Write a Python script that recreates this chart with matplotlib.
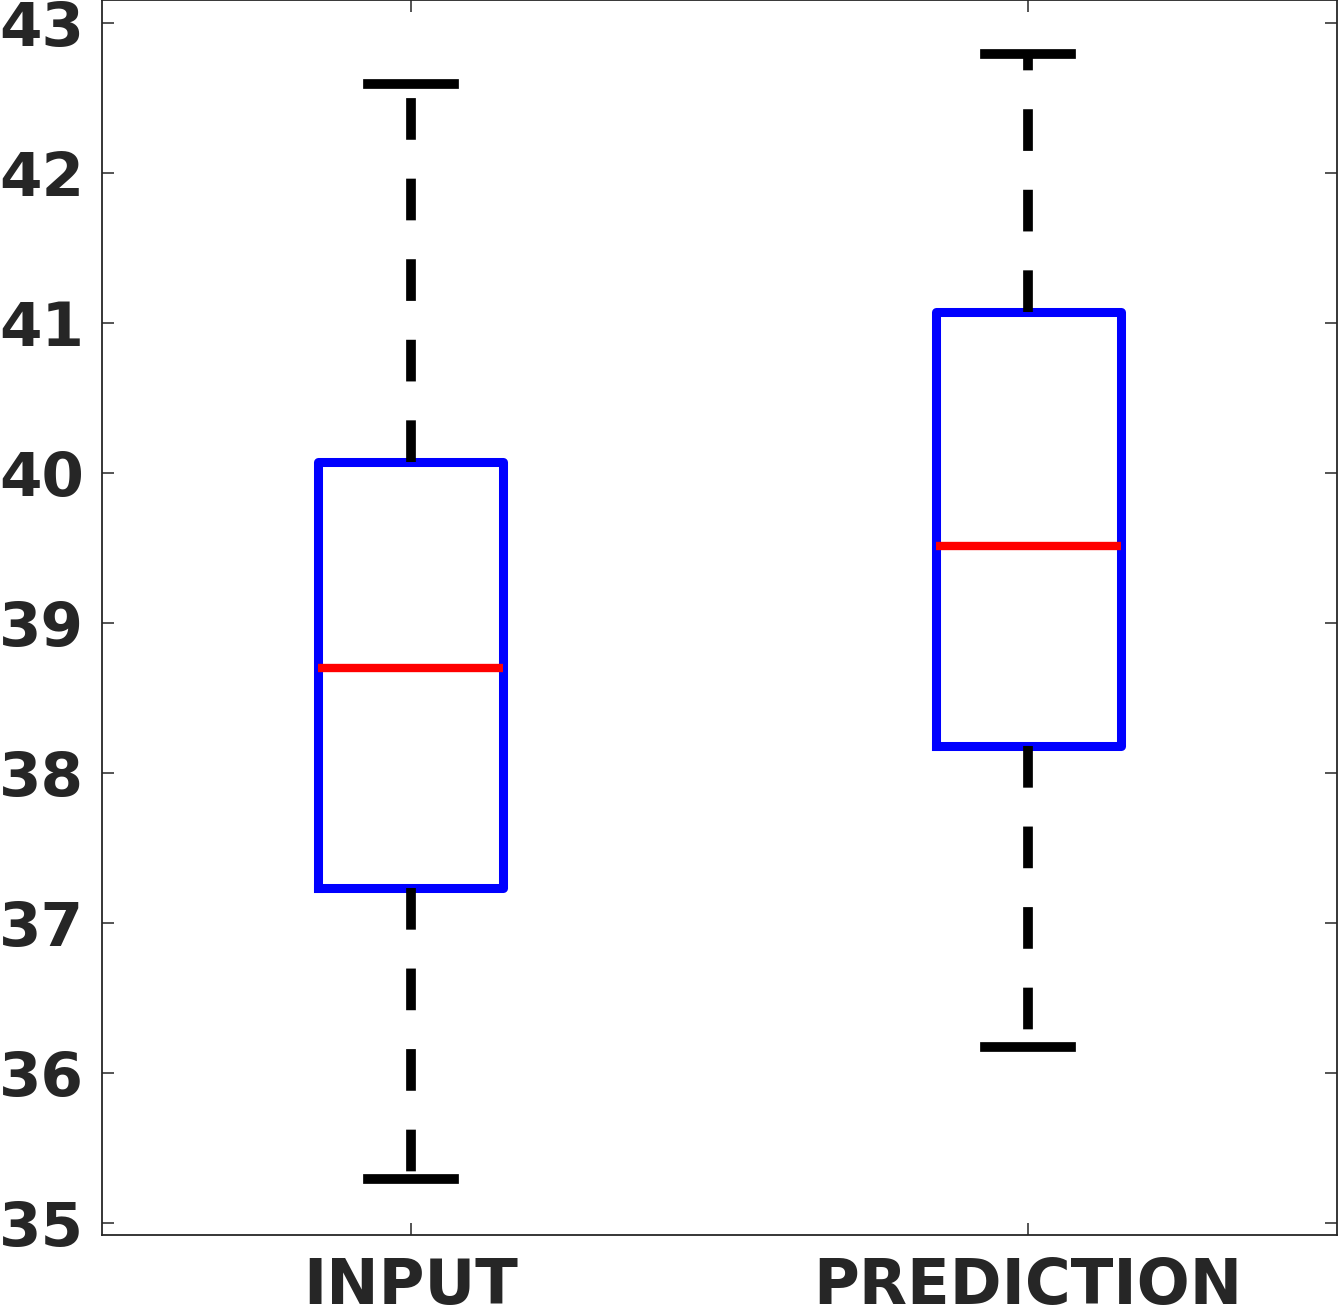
import matplotlib
matplotlib.use("Agg")
from matplotlib import pyplot as plt

# box statistics
labels = ["INPUT", "PREDICTION"]
whisker_low = [35.29, 36.17]
q1 = [37.23, 38.18]
median = [38.70, 39.51]
q3 = [40.07, 41.07]
whisker_high = [42.59, 42.79]

plt.rcParams['lines.scale_dashes'] = False
plt.rcParams['font.family'] = 'DejaVu Sans'

stats = []
for i in range(len(labels)):
    stats.append({
        'label': labels[i],
        'whislo': whisker_low[i],
        'q1': q1[i],
        'med': median[i],
        'q3': q3[i],
        'whishi': whisker_high[i],
        'fliers': [],
    })

fig = plt.figure(figsize=(13.39, 13.12), dpi=100)
ax = fig.add_axes([0.0762, 0.0587, 0.9223, 0.9413])

ax.bxp(stats, positions=[1, 2], widths=0.30, showfliers=False,
       boxprops=dict(color='#0000ff', linewidth=6.5, solid_joinstyle='round'),
       medianprops=dict(color='#ff0000', linewidth=6, solid_capstyle='butt'),
       whiskerprops=dict(color='black', linewidth=7, linestyle=(0, (30, 28))),
       capprops=dict(color='black', linewidth=7),
       capwidths=0.14)

ax.set_xlim(0.5, 2.5)
ax.set_ylim(34.92, 43.153)
ax.set_yticks(range(35, 44))
ax.set_xticks([1, 2])
ax.set_xticklabels(labels)

for sp in ax.spines.values():
    sp.set_color('#262626')
    sp.set_linewidth(1.3)

ax.tick_params(axis='both', which='major', direction='in', length=8.5, width=1.1,
               color='#262626', labelcolor='#262626')
ax.tick_params(axis='y', right=True, pad=13, labelsize=44)
ax.tick_params(axis='x', top=True, pad=16, labelsize=45)
for t in ax.get_xticklabels() + ax.get_yticklabels():
    t.set_fontweight('bold')

plt.savefig('out.png', dpi=100)
